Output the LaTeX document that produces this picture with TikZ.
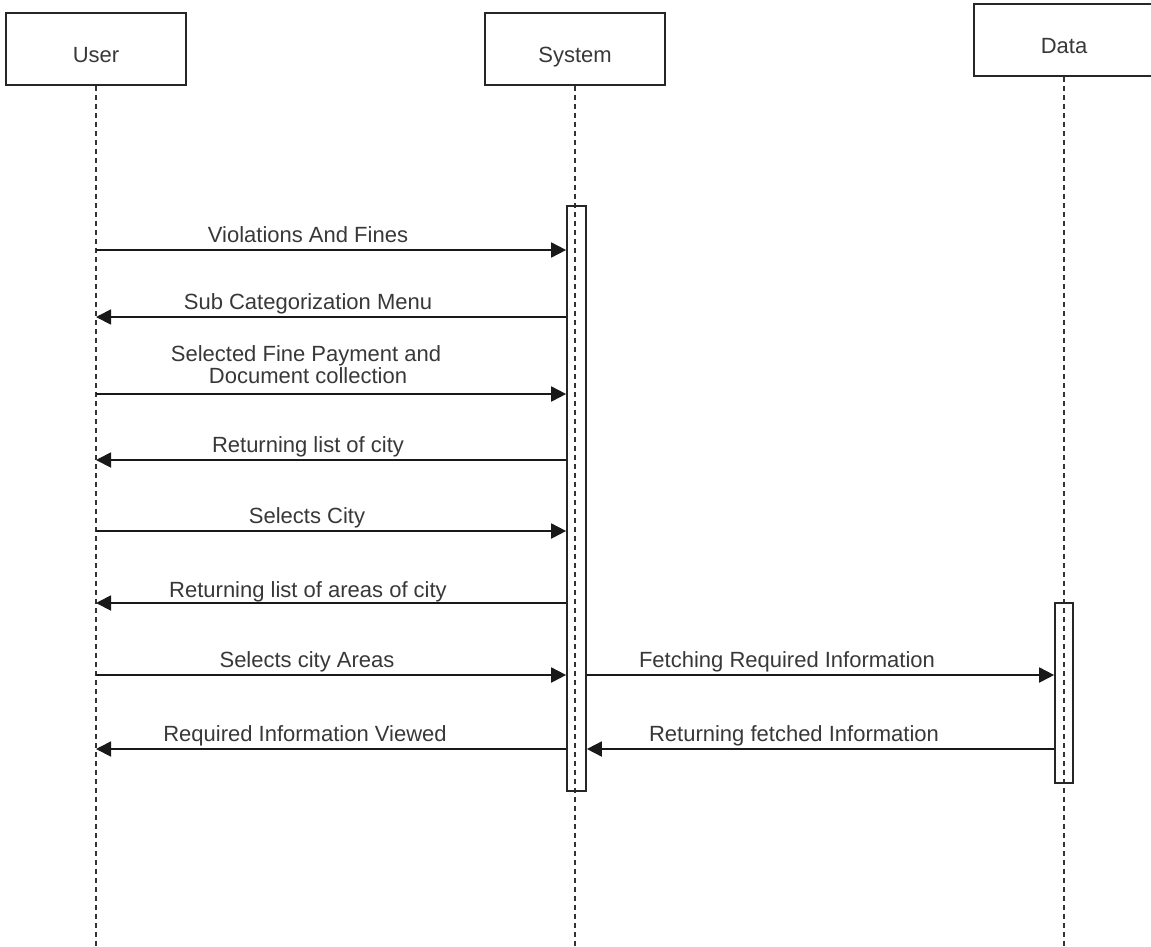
\documentclass[tikz,border=0pt]{standalone}
\usepackage{fontspec}
\setmainfont{Liberation Sans}
\usetikzlibrary{arrows.meta}
\begin{document}
\begin{tikzpicture}[x=1pt,y=-1pt,
  actor/.style={draw=black!85, line width=1.7pt, minimum width=180pt, minimum height=72pt,
    inner sep=0pt, text height=26pt, text depth=0pt, font=\fontsize{22}{26}\selectfont, text=black!78},
  lifeline/.style={draw=black!80, line width=1.3pt, dash pattern=on 5pt off 4pt},
  actbar/.style={draw=black!85, line width=1.7pt, inner sep=0pt},
  msg/.style={draw=black!90, line width=1.8pt, -{Triangle[length=15pt,width=15pt]}},
  lbl/.style={font=\fontsize{22}{26}\selectfont, text=black!78, anchor=base, inner sep=0pt, align=center},
]
\useasboundingbox (0,0) rectangle (1151,946);

% participants
\node[actor] (user) at (96,49) {User};
\node[actor] (sys)  at (575,49) {System};
\node[actor] (data) at (1064,40) {Data};

% lifelines
\coordinate (userEnd) at (96,946);
\coordinate (sysEnd)  at (575,946);
\coordinate (dataEnd) at (1064,946);
\draw[lifeline] (user.south) -- (userEnd);
\draw[lifeline] (sys.south)  -- (sysEnd);
\draw[lifeline] (data.south) -- (dataEnd);

% activation bars
\node[actbar, minimum width=19pt, minimum height=585pt] (sysbar)  at (576.5,498.5) {};
\node[actbar, minimum width=18pt, minimum height=180pt] (databar) at (1064,693) {};

% points on the user lifeline
\coordinate (u1) at (96,250);
\coordinate (u2) at (96,317);
\coordinate (u3) at (96,394);
\coordinate (u4) at (96,460);
\coordinate (u5) at (96,531);
\coordinate (u6) at (96,603);
\coordinate (u7) at (96,675);
\coordinate (u8) at (96,749);

% messages between User and System
\draw[msg] (u1) -- (sysbar.west |- u1);
\node[lbl] (l1) at (308,242) {Violations And Fines};
\draw[msg] (sysbar.west |- u2) -- (u2);
\node[lbl] (l2) at (308,309) {Sub Categorization Menu};
\draw[msg] (u3) -- (sysbar.west |- u3);
\node[lbl] (l3a) at (306,361) {Selected Fine Payment and};
\node[lbl] (l3b) at (308,383) {Document collection};
\draw[msg] (sysbar.west |- u4) -- (u4);
\node[lbl] (l4) at (308,452) {Returning list of city};
\draw[msg] (u5) -- (sysbar.west |- u5);
\node[lbl] (l5) at (307,523) {Selects City};
\draw[msg] (sysbar.west |- u6) -- (u6);
\node[lbl] (l6) at (308,597) {Returning list of areas of city};
\draw[msg] (u7) -- (sysbar.west |- u7);
\node[lbl] (l7) at (307,667) {Selects city Areas};
\draw[msg] (sysbar.west |- u8) -- (u8);
\node[lbl] (l8) at (305,741) {Required Information Viewed};

% messages between System and Data
\draw[msg] (sysbar.east |- u7) -- (databar.west |- u7);
\node[lbl] (l9) at (787,667) {Fetching Required Information};
\draw[msg] (databar.west |- u8) -- (sysbar.east |- u8);
\node[lbl] (l10) at (794,741) {Returning fetched Information};
\end{tikzpicture}
\end{document}
